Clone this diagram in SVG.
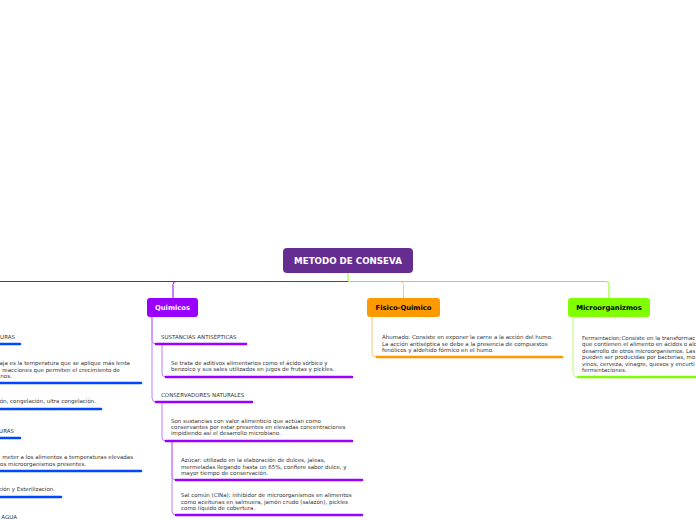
<svg xmlns="http://www.w3.org/2000/svg" width="696" height="520" viewBox="0 0 696 520">
<style>
.t{font-family:"DejaVu Sans","Liberation Sans",sans-serif;font-size:5.5px;fill:#333}
.nt{font-family:"DejaVu Sans","Liberation Sans",sans-serif;font-weight:bold;font-size:6.8px;text-anchor:middle}
.c{fill:none;stroke-width:1}
.u{fill:none;stroke-width:2.6;stroke-linecap:round}
.blue{stroke:#0047ff}
.pur{stroke:#9900ff}
.purl{stroke:#c27bff}
.org{stroke:#ff9900}
.orgl{stroke:#ffc670}
.grn{stroke:#80ff00}
.grnl{stroke:#b8ff70}
</style>
<rect width="696" height="520" fill="#ffffff"/>
<g id="connectors">
  <path class="c blue" d="M348,281.5 H-5"/>
  <path class="c orgl" d="M348,281.5 H400.5 Q403.5,281.5 403.5,284.5 V298"/>
  <path class="c pur" d="M348,281.5 H176 Q173,281.5 173,284.5 V298"/>
  <path class="c grn" d="M348,273 V281.5 H606 Q609,281.5 609,284.5 V298"/>
  <path class="c purl" d="M152,317 V340 Q152,344 156,344"/>
  <path class="c purl" d="M152,317 V398 Q152,402 156,402"/>
  <path class="c purl" d="M162,344 V373 Q162,377 166,377"/>
  <path class="c purl" d="M162,402 V437 Q162,441 166,441"/>
  <path class="c purl" d="M172,441 V476 Q172,480 176,480"/>
  <path class="c purl" d="M172,441 V511 Q172,515 176,515"/>
  <path class="c orgl" d="M372,317 V353 Q372,357 376,357"/>
  <path class="c grnl" d="M573,317 V373 Q573,377 577,377"/>
</g>
<g id="root">
  <rect x="283" y="248" width="130" height="25" rx="4" fill="#662d91"/>
  <text x="348" y="264.3" class="nt" style="font-size:8.7px;fill:#ffffff">METODO DE CONSEVA</text>
</g>
<g id="quimicos">
  <rect x="147" y="298" width="51" height="19" rx="3" fill="#9900ff"/>
  <text x="172.5" y="310.3" class="nt" fill="#ffffff">Quimicos</text>
</g>
<g id="fisico-quimico">
  <rect x="367" y="298" width="73" height="19" rx="3" fill="#ff9900"/>
  <text x="403.5" y="310.3" class="nt" fill="#000000">Fisico-Quimico</text>
</g>
<g id="microorganizmos">
  <rect x="568" y="298" width="82" height="19" rx="3" fill="#80ff00"/>
  <text x="609" y="310.3" class="nt" fill="#000000">Microorganizmos</text>
</g>
<g id="sustancias-antisepticas">
  <text x="161" y="339" class="t">SUSTANCIAS ANTISÉPTICAS</text>
  <path class="u pur" d="M156,344 H246"/>
</g>
<g id="aditivos">
  <text class="t"><tspan x="171" y="365">Se trata de aditivos alimentarios como el ácido sórbico y</tspan><tspan x="171" y="371.3">benzoico y sus sales utilizados en jugos de frutas y pickles.</tspan></text>
  <path class="u pur" d="M166,377 H352"/>
</g>
<g id="conservadores-naturales">
  <text x="161" y="397" class="t">CONSERVADORES NATURALES</text>
  <path class="u pur" d="M156,402 H252"/>
</g>
<g id="sustancias-valor">
  <text class="t"><tspan x="171" y="422.5">Son sustancias con valor alimenticio que actúan como</tspan><tspan x="171" y="428.8">conservantes por estar presentes en elevadas concentraciones</tspan><tspan x="171" y="435.1">impidiendo así el desarrollo microbiano.</tspan></text>
  <path class="u pur" d="M166,441 H352"/>
</g>
<g id="azucar">
  <text class="t"><tspan x="181" y="462">Azúcar: utilizado en la elaboración de dulces, jaleas,</tspan><tspan x="181" y="468.5">mermeladas llegando hasta un 65%, confiere sabor dulce, y</tspan><tspan x="181" y="475">mayor tiempo de conservación.</tspan></text>
  <path class="u pur" d="M176,480 H362"/>
</g>
<g id="sal">
  <text class="t"><tspan x="181" y="497">Sal común (ClNa): inhibidor de microorganismos en alimentos</tspan><tspan x="181" y="503.5">como aceitunas en salmuera, jamón crudo (salazón), pickles</tspan><tspan x="181" y="510">como líquido de cobertura.</tspan></text>
  <path class="u pur" d="M176,515 H362"/>
</g>
<g id="ahumado">
  <text class="t"><tspan x="382" y="339">Ahumado: Consiste en exponer la carne a la acción del humo.</tspan><tspan x="382" y="345.5">La acción antiséptica se debe a la presencia de compuestos</tspan><tspan x="382" y="352">fenólicos y aldehído fórmico  en el humo.</tspan></text>
  <path class="u org" d="M377,357 H562"/>
</g>
<g id="fermentacion">
  <text class="t"><tspan x="582" y="339.5">Fermentacion:Consiste en la transformac</tspan><tspan x="582" y="346">que contienen el alimento en ácidos o alc</tspan><tspan x="582" y="352.5">desarrollo de otros microorganismos. Las</tspan><tspan x="582" y="359">pueden ser producidas por bacterias, mo</tspan><tspan x="582" y="365.5">vinos, cerveza, vinagre, quesos y encurti</tspan><tspan x="582" y="372">fermentaciones.</tspan></text>
  <path class="u grn" d="M578,377 H700"/>
</g>
<g id="bajas-temperaturas">
  <text x="15" y="339" class="t" text-anchor="end">URAS</text>
  <path class="u blue" d="M-5,344 H20"/>
</g>
<g id="bajas-texto">
  <text class="t" text-anchor="end"><tspan x="130" y="365">aja es la temperatura que se aplique más lenta</tspan><tspan x="120" y="371.5">reacciones que permiten el crecimiento de</tspan><tspan x="11.8" y="378">nos.</tspan></text>
  <path class="u blue" d="M-5,383 H141"/>
</g>
<g id="bajas-tipos">
  <text x="96" y="403" class="t" text-anchor="end">ón, congelación, ultra congelación.</text>
  <path class="u blue" d="M-5,409 H101"/>
</g>
<g id="altas-temperaturas">
  <text x="14" y="432.5" class="t" text-anchor="end">URAS</text>
  <path class="u blue" d="M-5,438 H20"/>
</g>
<g id="altas-texto">
  <text class="t" text-anchor="end"><tspan x="133" y="459">meter a los alimentos a temperaturas elevadas</tspan><tspan x="86" y="465.5">os microorganismos presentes.</tspan></text>
  <path class="u blue" d="M-5,471 H141"/>
</g>
<g id="altas-tipos">
  <text x="55" y="491" class="t" text-anchor="end">ción y Esterilizacion.</text>
  <path class="u blue" d="M-5,497 H61"/>
</g>
<g id="agua">
  <text x="17" y="519.3" class="t" text-anchor="end">AGUA</text>
</g>
</svg>
